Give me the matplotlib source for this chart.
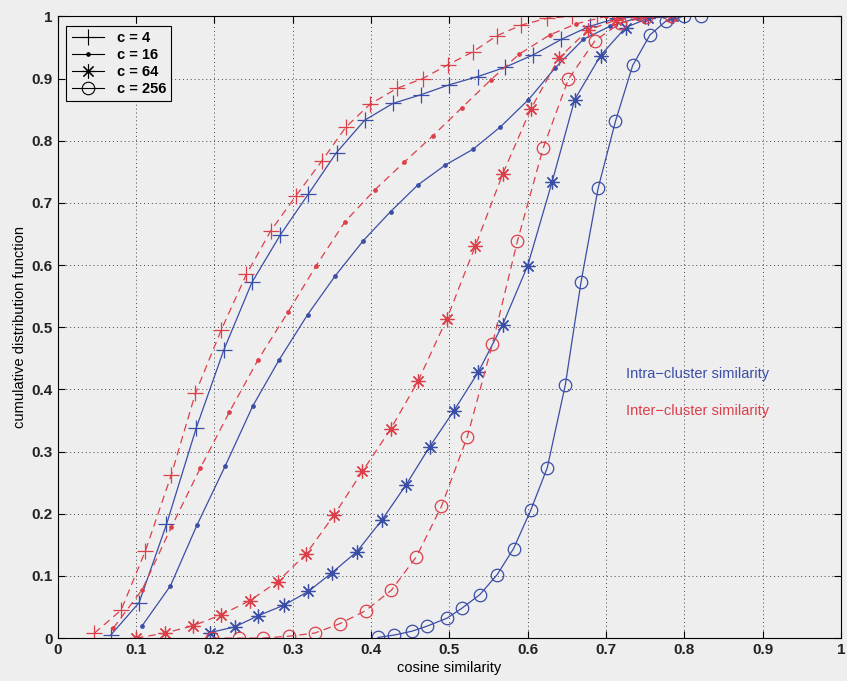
import matplotlib
matplotlib.use("Agg")
import matplotlib.pyplot as plt

# c = 4
x_intra_4 = [0.068, 0.104, 0.139, 0.177, 0.212, 0.248, 0.284, 0.320, 0.356, 0.392,
             0.428, 0.464, 0.500, 0.536, 0.571, 0.607, 0.643, 0.679, 0.714, 0.750]
y_intra_4 = [0.005, 0.057, 0.183, 0.338, 0.463, 0.572, 0.648, 0.714, 0.781, 0.833,
             0.860, 0.874, 0.890, 0.903, 0.918, 0.938, 0.963, 0.984, 0.997, 1.0]
x_inter_4 = [0.047, 0.081, 0.112, 0.145, 0.176, 0.209, 0.241, 0.272, 0.304, 0.337,
             0.368, 0.399, 0.433, 0.466, 0.498, 0.530, 0.561, 0.592, 0.625, 0.656,
             0.688, 0.720, 0.750]
y_inter_4 = [0.008, 0.045, 0.140, 0.262, 0.394, 0.496, 0.585, 0.655, 0.711, 0.767,
             0.822, 0.859, 0.884, 0.900, 0.922, 0.943, 0.969, 0.986, 0.997, 1.0,
             1.0, 1.0, 1.0]

# c = 16
x_intra_16 = [0.108, 0.144, 0.178, 0.214, 0.249, 0.283, 0.319, 0.354, 0.390, 0.425,
              0.460, 0.495, 0.530, 0.565, 0.601, 0.635, 0.671, 0.705, 0.739, 0.774]
y_intra_16 = [0.020, 0.084, 0.182, 0.277, 0.373, 0.448, 0.520, 0.582, 0.639, 0.686,
              0.729, 0.761, 0.786, 0.822, 0.866, 0.917, 0.963, 0.984, 0.997, 1.0]
x_inter_16 = [0.071, 0.108, 0.145, 0.182, 0.219, 0.256, 0.294, 0.330, 0.367, 0.405,
              0.442, 0.479, 0.516, 0.553, 0.589, 0.628, 0.662, 0.700, 0.737]
y_inter_16 = [0.016, 0.078, 0.178, 0.273, 0.363, 0.448, 0.524, 0.599, 0.670, 0.721,
              0.765, 0.808, 0.853, 0.898, 0.939, 0.970, 0.988, 1.0, 1.0]

# c = 64
x_intra_64 = [0.195, 0.226, 0.256, 0.289, 0.320, 0.350, 0.382, 0.414, 0.445, 0.475,
              0.506, 0.537, 0.568, 0.600, 0.631, 0.660, 0.693, 0.725, 0.754, 0.785]
y_intra_64 = [0.009, 0.018, 0.036, 0.053, 0.075, 0.105, 0.139, 0.190, 0.247, 0.308,
              0.366, 0.428, 0.504, 0.599, 0.733, 0.866, 0.937, 0.982, 0.997, 1.0]
x_inter_64 = [0.100, 0.137, 0.173, 0.208, 0.245, 0.281, 0.317, 0.353, 0.389, 0.425,
              0.460, 0.497, 0.533, 0.568, 0.604, 0.640, 0.677, 0.713, 0.747, 0.783]
y_inter_64 = [0.0, 0.008, 0.020, 0.037, 0.060, 0.091, 0.135, 0.198, 0.268, 0.336,
              0.413, 0.514, 0.630, 0.746, 0.851, 0.933, 0.978, 0.994, 1.0, 1.0]

# c = 256
x_intra_256 = [0.409, 0.430, 0.452, 0.471, 0.497, 0.516, 0.539, 0.561, 0.582, 0.604,
               0.625, 0.648, 0.668, 0.690, 0.712, 0.734, 0.756, 0.777, 0.799, 0.821]
y_intra_256 = [0.001, 0.005, 0.011, 0.019, 0.032, 0.048, 0.070, 0.102, 0.144, 0.206,
               0.274, 0.407, 0.572, 0.724, 0.831, 0.921, 0.970, 0.993, 1.0, 1.0]
x_inter_256 = [0.197, 0.231, 0.262, 0.295, 0.328, 0.360, 0.393, 0.426, 0.458, 0.490,
               0.523, 0.555, 0.587, 0.620, 0.652, 0.686, 0.718, 0.751, 0.783]
y_inter_256 = [0.0, 0.0, 0.0, 0.003, 0.008, 0.023, 0.044, 0.077, 0.131, 0.212,
               0.324, 0.473, 0.639, 0.789, 0.899, 0.961, 0.989, 0.999, 1.0]

x_ticks = [0, 0.1, 0.2, 0.3, 0.4, 0.5, 0.6, 0.7, 0.8, 0.9, 1]
x_tick_labels = ['0', '0.1', '0.2', '0.3', '0.4', '0.5', '0.6', '0.7', '0.8', '0.9', '1']
y_ticks = [0, 0.1, 0.2, 0.3, 0.4, 0.5, 0.6, 0.7, 0.8, 0.9, 1]
y_tick_labels = ['0', '0.1', '0.2', '0.3', '0.4', '0.5', '0.6', '0.7', '0.8', '0.9', '1']

BLUE = '#3b4ea6'
RED = '#dc3f4a'
BG = '#eeeeee'

plt.rcParams['font.family'] = ['Liberation Sans', 'DejaVu Sans']

fig = plt.figure(figsize=(8.47, 6.81), dpi=100, facecolor=BG)
ax = fig.add_axes([0.068, 0.063, 0.925, 0.913], facecolor=BG)

asterisk = (8, 2, 0)
# marker, size, filled?, label
series = [
    (x_intra_4, y_intra_4, x_inter_4, y_inter_4, '+', 11, False, 'c = 4'),
    (x_intra_16, y_intra_16, x_inter_16, y_inter_16, '.', 5, True, 'c = 16'),
    (x_intra_64, y_intra_64, x_inter_64, y_inter_64, asterisk, 10, False, 'c = 64'),
    (x_intra_256, y_intra_256, x_inter_256, y_inter_256, 'o', 9, False, 'c = 256'),
]

for xa, ya, xe, ye, mk, ms, filled, lab in series:
    ax.plot(xa, ya, color=BLUE, linestyle='-', linewidth=0.9,
            marker=mk, markersize=ms,
            markerfacecolor=BLUE if filled else 'none',
            markeredgecolor=BLUE, markeredgewidth=0.9)
    ax.plot(xe, ye, color=RED, linestyle=(0, (6, 4)), linewidth=0.9,
            marker=mk, markersize=ms,
            markerfacecolor=RED if filled else 'none',
            markeredgecolor=RED, markeredgewidth=0.9)
    # legend proxy in black
    ax.plot([], [], color='black', linestyle='-', linewidth=0.8,
            marker=mk, markersize=ms,
            markerfacecolor='black' if filled else 'none',
            markeredgecolor='black', markeredgewidth=0.8, label=lab)

ax.set_xlim(0, 1)
ax.set_ylim(0, 1)
ax.set_xticks(x_ticks, x_tick_labels)
ax.set_yticks(y_ticks, y_tick_labels)
ax.tick_params(direction='in', top=True, right=True, length=5,
               labelsize=11, width=0.8)
for lbl in ax.get_xticklabels() + ax.get_yticklabels():
    lbl.set_fontweight('bold')
    lbl.set_color('#222222')
ax.grid(True, linestyle=(0, (1, 3)), color='#444444', linewidth=0.7)
for sp in ax.spines.values():
    sp.set_linewidth(0.8)

ax.set_xlabel('cosine similarity', fontsize=10.5, labelpad=3)
ax.set_ylabel('cumulative distribution function', fontsize=10.5, labelpad=3)

ax.text(0.725, 0.424, 'Intra\u2212cluster similarity', color=BLUE, fontsize=10.5,
        transform=ax.transData, va='center')
ax.text(0.725, 0.366, 'Inter\u2212cluster similarity', color=RED, fontsize=10.5,
        transform=ax.transData, va='center')

leg = ax.legend(loc='upper left', fontsize=10.5, handlelength=2.2, borderpad=0.35,
                labelspacing=0.2, handletextpad=0.9, fancybox=False, framealpha=1,
                edgecolor='black', facecolor=BG, bbox_to_anchor=(0.002, 0.996))
leg.get_frame().set_linewidth(0.8)
for t in leg.get_texts():
    t.set_fontweight('bold')

fig.savefig('out.png', dpi=100, facecolor=BG)
